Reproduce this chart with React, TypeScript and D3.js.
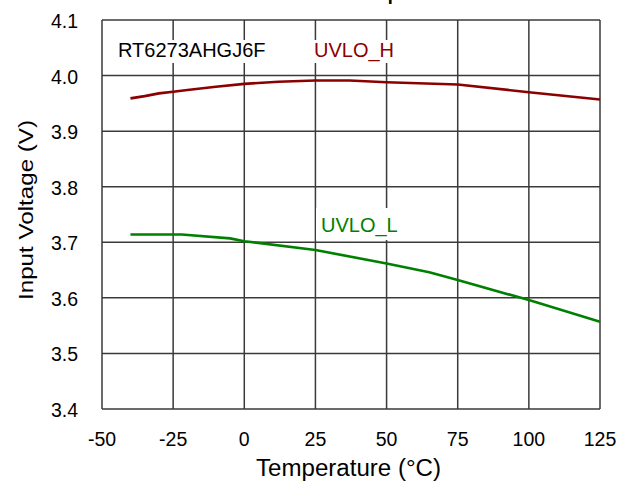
import React from "react";
import * as d3 from "d3";

const xTicks = [-50, -25, 0, 25, 50, 75, 100, 125];
const yTicks = [3.4, 3.5, 3.6, 3.7, 3.8, 3.9, 4.0, 4.1];

const uvloHTemp = [-40, -35, -30, -25, -20, -10, 0, 12, 25, 37, 50, 75, 100, 125];
const uvloHVolt = [3.959, 3.963, 3.968, 3.971, 3.974, 3.98, 3.985, 3.989, 3.991, 3.991, 3.988, 3.984, 3.97, 3.957];

const uvloLTemp = [-40, -22, -5, 0, 25, 50, 65, 75, 100, 125];
const uvloLVolt = [3.714, 3.714, 3.707, 3.702, 3.686, 3.662, 3.646, 3.632, 3.596, 3.557];

const W = 629;
const H = 483;
const L = 102, R = 600, T = 20, B = 409;
const FONT = "Liberation Sans, Arial, sans-serif";

export default function App() {
  const x = d3.scaleLinear().domain([-50, 125]).range([L, R]);
  const y = d3.scaleLinear().domain([3.4, 4.1]).range([B, T]);
  const line = d3
    .line<[number, number]>()
    .x((d) => x(d[0]))
    .y((d) => y(d[1]))
    .curve(d3.curveLinear);
  const hPts = uvloHTemp.map((t, i) => [t, uvloHVolt[i]] as [number, number]);
  const lPts = uvloLTemp.map((t, i) => [t, uvloLVolt[i]] as [number, number]);
  const grid = "#3a3a3a";

  return (
    <svg
      width={W}
      height={H}
      style={{ position: "absolute", left: 0, top: 0, background: "#fff" }}
      fontFamily={FONT}
    >
      <rect x={0} y={0} width={W} height={H} fill="#fff" />
      <text x={267} y={0} fontSize={18} fontWeight="bold" fill="#000">
        UVLO vs. Temperature
      </text>
      {xTicks.map((t) => (
        <line key={"gx" + t} x1={x(t)} x2={x(t)} y1={T} y2={B} stroke={grid} strokeWidth={1.5} />
      ))}
      {yTicks.map((t) => (
        <line key={"gy" + t} x1={L} x2={R} y1={y(t)} y2={y(t)} stroke={grid} strokeWidth={1.5} />
      ))}
      {/* label boxes */}
      <rect x={112} y={40} width={158} height={23} fill="#fff" />
      <rect x={306} y={40} width={104} height={23} fill="#fff" />
      <rect x={316} y={208} width={82} height={32} fill="#fff" />
      <text x={118} y={57} fontSize={20} fill="#000">
        RT6273AHGJ6F
      </text>
      <text x={314} y={57} fontSize={20} fill="#8b0000">
        UVLO_H
      </text>
      <text x={321} y={231.5} fontSize={20} fill="#008000">
        UVLO_L
      </text>
      <path d={line(hPts) || ""} fill="none" stroke="#8b0000" strokeWidth={2.6} strokeLinejoin="round" />
      <path d={line(lPts) || ""} fill="none" stroke="#008000" strokeWidth={2.6} strokeLinejoin="round" />
      {yTicks.map((t) => (
        <text key={"ty" + t} x={78} y={y(t) + 8} fontSize={19.5} textAnchor="end" fill="#000">
          {t.toFixed(1)}
        </text>
      ))}
      {xTicks.map((t) => (
        <text key={"tx" + t} x={x(t)} y={446} fontSize={19.5} textAnchor="middle" fill="#000">
          {t}
        </text>
      ))}
      <text
        x={348.5}
        y={476}
        fontSize={23}
        textAnchor="middle"
        textLength={185}
        lengthAdjust="spacingAndGlyphs"
        fill="#000"
      >
        Temperature (°C)
      </text>
      <text
        transform={`translate(33,210) rotate(-90)`}
        fontSize={20}
        textAnchor="middle"
        textLength={180}
        lengthAdjust="spacingAndGlyphs"
        fill="#000"
      >
        Input Voltage (V)
      </text>
    </svg>
  );
}
